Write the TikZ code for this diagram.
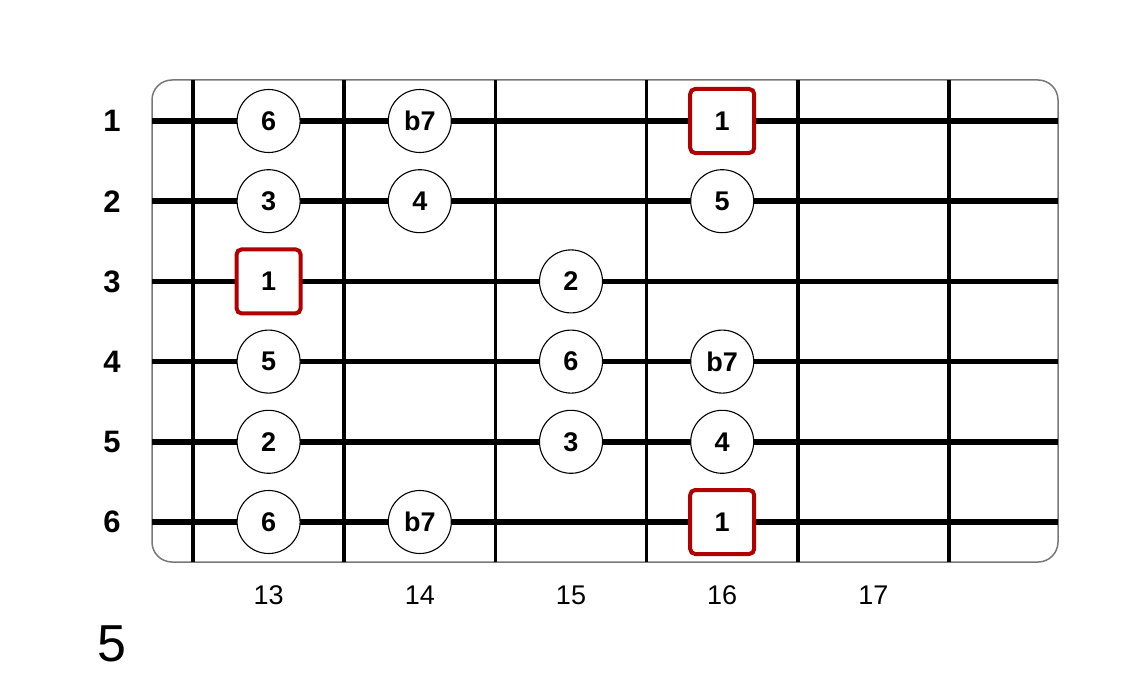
\documentclass[tikz,border=0pt]{standalone}
\usepackage{fontspec}
\setmainfont{Liberation Sans}
\definecolor{rootred}{RGB}{176,0,0}
\definecolor{boardgrey}{RGB}{120,120,120}
\begin{document}
\begin{tikzpicture}[x=1pt,y=-1pt,
  note/.style={circle, draw=black, fill=white, minimum size=63pt, inner sep=0pt, line width=1.1pt, font=\fontsize{27}{27}\selectfont\bfseries},
  rootnote/.style={rectangle, rounded corners=5pt, draw=rootred, fill=white, minimum size=64pt, inner sep=0pt, line width=4pt, font=\fontsize{27}{27}\selectfont\bfseries},
  strlabel/.style={font=\fontsize{31}{31}\selectfont\bfseries, inner sep=0pt},
  fretlabel/.style={font=\fontsize{27}{27}\selectfont, inner sep=0pt},
  stringline/.style={line width=5.5pt},
  fretline/.style={line width=3.5pt}]
\useasboundingbox (0,0) rectangle (1132,682);
\draw[boardgrey, line width=1.5pt, fill=white, rounded corners=20pt] (152,80) rectangle (1058,562);
% frets
\foreach \i in {0,...,5} {
  \draw[fretline] ({193+151.2*\i},80) -- ({193+151.2*\i},562);
}
% strings and labels
\foreach \s in {1,...,6} {
  \draw[stringline] (152,{121+80.2*(\s-1)}) -- (1058,{121+80.2*(\s-1)});
  \node[strlabel] (s\s) at (112,{121+80.2*(\s-1)}) {\s};
}
% fret numbers
\foreach \f [count=\k from 0] in {13,14,15,16,17} {
  \node[fretlabel] (f\f) at ({268.6+151.2*\k},595) {\f};
}
% position label
\node[font=\fontsize{52}{52}\selectfont, inner sep=0pt] (pos) at (112,644) {5};
% notes
\newcommand{\fx}[1]{268.6+151.2*(#1-13)}
\newcommand{\sy}[1]{121+80.2*(#1-1)}
\node[note] (n1a) at ({\fx{13}},{\sy{1}}) {6};
\node[note] (n1b) at ({\fx{14}},{\sy{1}}) {b7};
\node[rootnote] (n1c) at ({\fx{16}},{\sy{1}}) {1};
\node[note] (n2a) at ({\fx{13}},{\sy{2}}) {3};
\node[note] (n2b) at ({\fx{14}},{\sy{2}}) {4};
\node[note] (n2c) at ({\fx{16}},{\sy{2}}) {5};
\node[rootnote] (n3a) at ({\fx{13}},{\sy{3}}) {1};
\node[note] (n3b) at ({\fx{15}},{\sy{3}}) {2};
\node[note] (n4a) at ({\fx{13}},{\sy{4}}) {5};
\node[note] (n4b) at ({\fx{15}},{\sy{4}}) {6};
\node[note] (n4c) at ({\fx{16}},{\sy{4}}) {b7};
\node[note] (n5a) at ({\fx{13}},{\sy{5}}) {2};
\node[note] (n5b) at ({\fx{15}},{\sy{5}}) {3};
\node[note] (n5c) at ({\fx{16}},{\sy{5}}) {4};
\node[note] (n6a) at ({\fx{13}},{\sy{6}}) {6};
\node[note] (n6b) at ({\fx{14}},{\sy{6}}) {b7};
\node[rootnote] (n6c) at ({\fx{16}},{\sy{6}}) {1};
\end{tikzpicture}
\end{document}
